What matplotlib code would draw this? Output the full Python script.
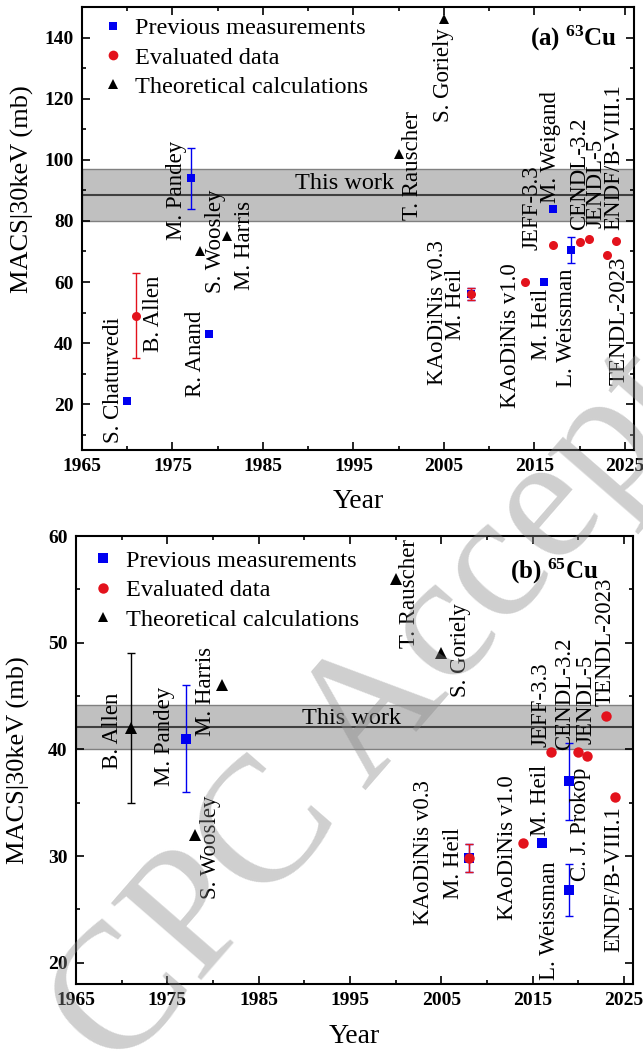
#!/usr/bin/env python3
"""MACS at 30 keV for 63Cu and 65Cu versus publication year."""

import matplotlib

matplotlib.use("Agg")
import matplotlib.pyplot as plt
from matplotlib.lines import Line2D
from matplotlib.ticker import MultipleLocator

plt.rcParams["font.family"] = ["Liberation Serif", "DejaVu Serif"]
plt.rcParams["mathtext.fontset"] = "custom"
plt.rcParams["mathtext.rm"] = "Liberation Serif"
plt.rcParams["mathtext.bf"] = "Liberation Serif:bold"

BLUE = "#0000f0"
RED = "#e3121c"
BLACK = "#000000"

# ---- (a) 63Cu ----
prev63_year = [1970, 1977, 1979, 2008, 2016, 2017, 2019]
prev63_macs = [21, 94, 43, 56, 60, 84, 70.5]
prev63_err = [0, 10, 0, 2, 0, 0, 4.3]

eval63_year = [1971, 2008, 2014, 2017, 2020, 2021, 2023, 2024]
eval63_macs = [49, 56, 60, 72, 73, 74, 69, 73.5]
eval63_err = [14, 2, 0, 0, 0, 0, 0, 0]

theo63_year = [1978, 1981, 2000, 2005]
theo63_macs = [70, 75, 102, 146]

this_work63 = 88.4
this_work63_err = 8.5

labels63 = [
    ("S. Chaturvedi", 1968.5, 7.3),
    ("B. Allen", 1972.9, 37.1),
    ("R. Anand", 1977.5, 22.4),
    ("M. Pandey", 1975.4, 73.7),
    ("S. Woosley", 1979.7, 56.4),
    ("M. Harris", 1983.0, 57.3),
    ("T. Rauscher", 2001.5, 80.2),
    ("S. Goriely", 2004.9, 112.4),
    ("KAoDiNis v0.3", 2004.3, 26.3),
    ("M. Heil", 2006.3, 41.0),
    ("KAoDiNis v1.0", 2012.4, 18.7),
    ("JEFF-3.3", 2014.7, 70.4),
    ("M. Heil", 2015.8, 34.4),
    ("M. Weigand", 2016.8, 85.8),
    ("L. Weissman", 2018.5, 25.7),
    ("CENDL-3.2", 2020.0, 76.9),
    ("JENDL-5", 2021.8, 77.6),
    ("ENDF/B-VIII.1", 2023.8, 76.9),
    ("TENDL-2023", 2024.4, 26.3),
]

# ---- (b) 65Cu ----
prev65_year = [1977, 2008, 2016, 2019, 2019]
prev65_macs = [41, 29.8, 31.2, 37, 26.8]
prev65_err = [5, 1.3, 0, 3.6, 2.45]

eval65_year = [2008, 2014, 2017, 2020, 2021, 2023, 2024]
eval65_macs = [29.8, 31.2, 39.8, 39.8, 39.4, 43.1, 35.5]
eval65_err = [1.3, 0, 0, 0, 0, 0, 0]

theo65_year = [1971, 1978, 1981, 2000, 2005]
theo65_macs = [42, 32, 46, 56, 49]
theo65_err = [7, 0, 0, 0, 0]

this_work65 = 42.1
this_work65_err = 2.1

labels65 = [
    ("B. Allen", 1969.0, 38.2),
    ("M. Pandey", 1974.7, 36.6),
    ("M. Harris", 1979.2, 41.3),
    ("S. Woosley", 1979.7, 26.0),
    ("T. Rauscher", 2001.5, 49.5),
    ("S. Goriely", 2007.1, 44.9),
    ("KAoDiNis v0.3", 2003.1, 23.5),
    ("M. Heil", 2006.3, 26.0),
    ("KAoDiNis v1.0", 2012.3, 24.0),
    ("JEFF-3.3", 2015.9, 40.2),
    ("M. Heil", 2015.9, 31.9),
    ("L. Weissman", 2016.9, 18.4),
    ("CENDL-3.2", 2018.5, 39.9),
    ("C. J. Prokop", 2020.3, 27.7),
    ("JENDL-5", 2020.8, 40.5),
    ("TENDL-2023", 2022.9, 44.1),
    ("ENDF/B-VIII.1", 2023.9, 21.0),
]


def errorbars(ax, x, y, err, color, marker, ms):
    ex, ey, ee = [], [], []
    for xi, yi, ei in zip(x, y, err):
        if ei:
            ex.append(xi)
            ey.append(yi)
            ee.append(ei)
    if ex:
        ax.errorbar(ex, ey, yerr=ee, fmt="none", ecolor=color, elinewidth=1.0,
                    capsize=3, capthick=1.0, zorder=3)
    ax.plot(x, y, linestyle="none", marker=marker, color=color, ms=ms,
            markeredgewidth=0, zorder=4)


def style_axes(ax, ylim, ymajor, yminor):
    ax.set_xlim(1965, 2026)
    ax.set_ylim(*ylim)
    ax.xaxis.set_major_locator(MultipleLocator(10, offset=5))
    ax.xaxis.set_minor_locator(MultipleLocator(5))
    ax.yaxis.set_major_locator(MultipleLocator(ymajor))
    ax.yaxis.set_minor_locator(MultipleLocator(yminor))
    ax.tick_params(which="both", direction="in", top=True, right=True,
                   width=1.2, labelsize=14, pad=6)
    ax.tick_params(which="major", length=6)
    ax.tick_params(which="minor", length=3)
    for lab in ax.get_xticklabels() + ax.get_yticklabels():
        lab.set_fontweight("bold")
    for sp in ax.spines.values():
        sp.set_linewidth(1.5)
    ax.set_xlabel("Year", fontsize=20)
    ax.set_ylabel("MACS|30keV (mb)", fontsize=19)


def band(ax, center, err, text_x, text_y):
    ax.axhspan(center - err, center + err, facecolor="#c0c0c0",
               edgecolor="#808080", linewidth=1.0, zorder=1)
    ax.axhline(center, color="#404040", linewidth=1.5, zorder=2)
    ax.text(text_x, text_y, "This work", fontsize=17.5, ha="center",
            va="center", zorder=2)


def legend(ax, ms_sq, ms_ci, ms_tr, anchor, pad):
    handles = [
        Line2D([], [], linestyle="none", marker="s", color=BLUE, ms=ms_sq,
               markeredgewidth=0, label="Previous measurements"),
        Line2D([], [], linestyle="none", marker="o", color=RED, ms=ms_ci,
               markeredgewidth=0, label="Evaluated data"),
        Line2D([], [], linestyle="none", marker="^", color=BLACK, ms=ms_tr,
               markeredgewidth=0, label="Theoretical calculations"),
    ]
    ax.legend(handles=handles, loc="upper left", bbox_to_anchor=anchor,
              frameon=False, fontsize=17.5, handlelength=1.0,
              handletextpad=pad, labelspacing=0.3, borderpad=0,
              borderaxespad=0)


def names(ax, labels):
    for text, x, y in labels:
        ax.text(x, y, text, rotation=90, fontsize=16.5, ha="center",
                va="bottom", zorder=5)


fig = plt.figure(figsize=(6.43, 10.53), dpi=100)

# panel (a)
ax1 = fig.add_axes([0.1275, 0.5726, 0.8585, 0.4207])
band(ax1, this_work63, this_work63_err, 1994.0, 92.4)
errorbars(ax1, prev63_year, prev63_macs, prev63_err, BLUE, "s", 5.5)
errorbars(ax1, eval63_year, eval63_macs, eval63_err, RED, "o", 6.5)
ax1.plot(theo63_year, theo63_macs, linestyle="none", marker="^", color=BLACK,
         ms=6.5, markeredgewidth=0, zorder=4)
names(ax1, labels63)
style_axes(ax1, (5, 150), 20, 10)
ax1.xaxis.set_label_coords(0.50, -0.088)
ax1.yaxis.set_label_coords(-0.087, 0.59)
legend(ax1, 6, 7, 7.5, (0.034, 0.977), 0.4)
ax1.text(0.969, 0.912, r"(a) $\mathbf{^{63}}$Cu", transform=ax1.transAxes,
         fontsize=18, fontweight="bold", ha="right", va="baseline")

# panel (b)
ax2 = fig.add_axes([0.1182, 0.0655, 0.8663, 0.4254])
band(ax2, this_work65, this_work65_err, 1995.2, 42.9)
errorbars(ax2, prev65_year, prev65_macs, prev65_err, BLUE, "s", 7)
errorbars(ax2, eval65_year, eval65_macs, eval65_err, RED, "o", 7.5)
errorbars(ax2, theo65_year, theo65_macs, theo65_err, BLACK, "^", 8)
names(ax2, labels65)
style_axes(ax2, (18, 60), 10, 5)
ax2.xaxis.set_label_coords(0.50, -0.09)
ax2.yaxis.set_label_coords(-0.083, 0.5)
legend(ax2, 6.5, 7.5, 7.5, (0.027, 0.969), 0.45)
ax2.text(0.937, 0.906, r"(b) $\mathbf{^{65}}$Cu", transform=ax2.transAxes,
         fontsize=18, fontweight="bold", ha="right", va="baseline")

# watermark
fig.text(0.672, 0.385, "CPC Accepted", rotation=49, fontsize=130,
         color="#888888", alpha=0.40, ha="center", va="center", zorder=10)

fig.savefig("out.png", dpi=100)
